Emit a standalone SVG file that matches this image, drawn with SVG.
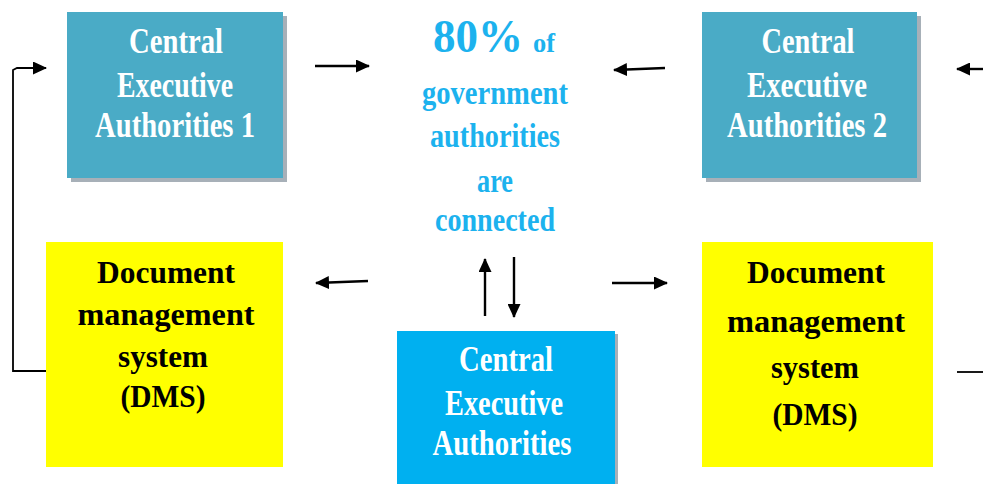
<svg xmlns="http://www.w3.org/2000/svg" width="983" height="484" viewBox="0 0 983 484">
  <style>
    .t { font-family: "Liberation Serif", "Times New Roman", serif; font-weight: bold; text-anchor: middle; }
    .w { fill: #ffffff; font-size: 35px; }
    .k { fill: #000000; font-size: 32px; }
    .b { fill: #1cb2ee; font-size: 33px; }
    .ln { stroke: #000; stroke-width: 2.4; fill: none; }
    .thin { stroke: #000; stroke-width: 1.8; fill: none; }
  </style>
  <defs>
    <marker id="ah" viewBox="0 0 14 13" refX="13" refY="6.5" markerWidth="14" markerHeight="13" markerUnits="userSpaceOnUse" orient="auto">
      <path d="M0,0 L14,6.5 L0,13 Z" fill="#000"/>
    </marker>
  </defs>
  <rect width="983" height="484" fill="#ffffff"/>

  <!-- connectors -->
  <g id="connectors">
    <path class="thin" d="M47,371 L13,371 L13,70 L17,68 L46,68" marker-end="url(#ah)"/>
    <line class="ln" x1="315" y1="66" x2="369" y2="66" marker-end="url(#ah)"/>
    <line class="ln" x1="665" y1="68" x2="614" y2="70" marker-end="url(#ah)"/>
    <line class="ln" x1="983" y1="69" x2="957" y2="69" marker-end="url(#ah)"/>
    <line class="ln" x1="368" y1="281" x2="316" y2="283" marker-end="url(#ah)"/>
    <line class="ln" x1="612" y1="283" x2="667" y2="283" marker-end="url(#ah)"/>
    <line class="ln" x1="485" y1="316" x2="485" y2="259" marker-end="url(#ah)"/>
    <line class="ln" x1="514" y1="257" x2="514" y2="317" marker-end="url(#ah)"/>
    <line class="thin" x1="957" y1="372" x2="983" y2="372"/>
  </g>

  <g id="cea1">
    <rect x="71" y="16" width="216" height="166" fill="#a7b0b8"/>
    <rect x="67" y="12" width="216" height="166" fill="#4aabc6"/>
    <text class="t w" x="176" y="53" textLength="94" lengthAdjust="spacingAndGlyphs">Central</text>
    <text class="t w" x="175" y="97" textLength="116" lengthAdjust="spacingAndGlyphs">Executive</text>
    <text class="t w" x="175" y="137" textLength="160" lengthAdjust="spacingAndGlyphs">Authorities 1</text>
  </g>

  <g id="cea2">
    <rect x="706" y="16" width="215" height="166" fill="#a7b0b8"/>
    <rect x="702" y="12" width="215" height="166" fill="#4aabc6"/>
    <text class="t w" x="808" y="53" textLength="93" lengthAdjust="spacingAndGlyphs">Central</text>
    <text class="t w" x="807" y="97" textLength="120" lengthAdjust="spacingAndGlyphs">Executive</text>
    <text class="t w" x="807" y="137" textLength="160" lengthAdjust="spacingAndGlyphs">Authorities 2</text>
  </g>

  <g id="share">
    <text class="t b" x="494" y="52"><tspan font-size="46" textLength="90" lengthAdjust="spacingAndGlyphs">80%</tspan><tspan font-size="28" dx="10" textLength="22" lengthAdjust="spacingAndGlyphs">of</tspan></text>
    <text class="t b" x="495" y="104" textLength="146" lengthAdjust="spacingAndGlyphs">government</text>
    <text class="t b" x="495" y="147" textLength="130" lengthAdjust="spacingAndGlyphs">authorities</text>
    <text class="t b" x="495" y="192" textLength="36" lengthAdjust="spacingAndGlyphs">are</text>
    <text class="t b" x="495" y="231" textLength="120" lengthAdjust="spacingAndGlyphs">connected</text>
  </g>

  <g id="dms1">
    <rect x="46" y="242" width="237" height="225" fill="#ffff00"/>
    <text class="t k" x="166" y="283" textLength="138" lengthAdjust="spacingAndGlyphs">Document</text>
    <text class="t k" x="166" y="325" textLength="177" lengthAdjust="spacingAndGlyphs">management</text>
    <text class="t k" x="163" y="367" textLength="90" lengthAdjust="spacingAndGlyphs">system</text>
    <text class="t k" x="163" y="407" textLength="85" lengthAdjust="spacingAndGlyphs">(DMS)</text>
  </g>

  <g id="cea">
    <rect x="400" y="334" width="218" height="160" fill="#a7b0b8"/>
    <rect x="397" y="331" width="218" height="160" fill="#00b0f0"/>
    <text class="t w" x="506" y="371" textLength="94" lengthAdjust="spacingAndGlyphs">Central</text>
    <text class="t w" x="504" y="415" textLength="118" lengthAdjust="spacingAndGlyphs">Executive</text>
    <text class="t w" x="502" y="455" textLength="139" lengthAdjust="spacingAndGlyphs">Authorities</text>
  </g>

  <g id="dms2">
    <rect x="702" y="242" width="231" height="225" fill="#ffff00"/>
    <text class="t k" x="816" y="283" textLength="138" lengthAdjust="spacingAndGlyphs">Document</text>
    <text class="t k" x="816" y="332" textLength="178" lengthAdjust="spacingAndGlyphs">management</text>
    <text class="t k" x="815" y="378" textLength="88" lengthAdjust="spacingAndGlyphs">system</text>
    <text class="t k" x="815" y="425" textLength="85" lengthAdjust="spacingAndGlyphs">(DMS)</text>
  </g>
</svg>
